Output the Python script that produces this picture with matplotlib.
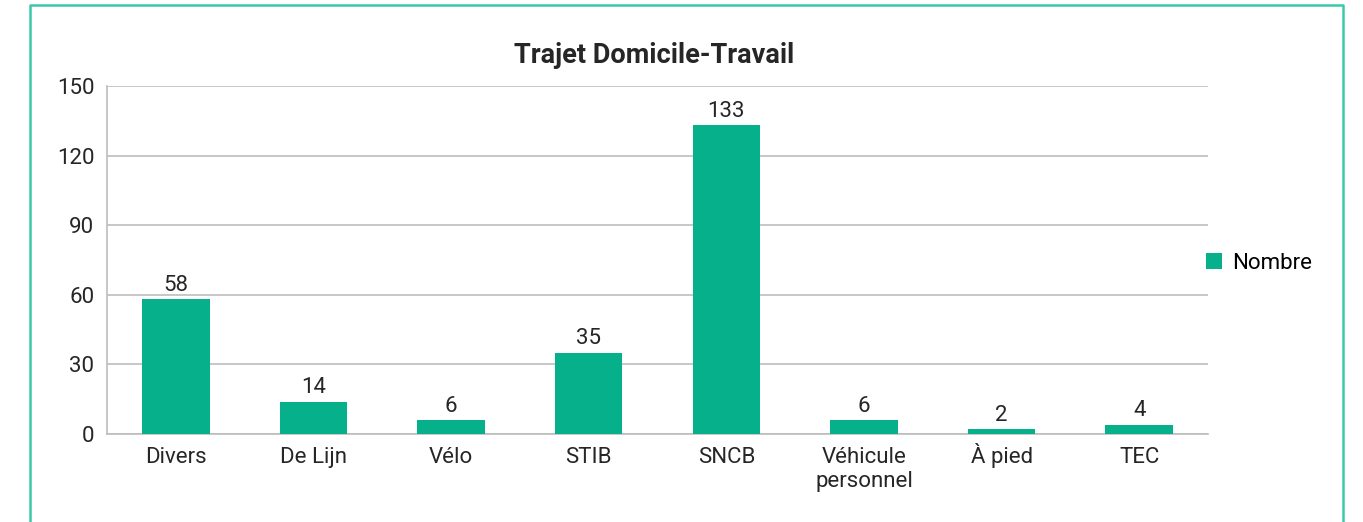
import matplotlib.pyplot as plt
from matplotlib.lines import Line2D
from matplotlib.transforms import blended_transform_factory, offset_copy

# Data
categories = ['Divers', 'De Lijn', 'Vélo', 'STIB', 'SNCB',
              'Véhicule\npersonnel', 'À pied', 'TEC']
nombre = [58, 14, 6, 35, 133, 6, 2, 4]
yticks = [0, 30, 60, 90, 120, 150]

bar_color = '#05B08A'
grid_color = '#BDBDBD'
text_color = '#262626'

plt.rcParams['font.family'] = ['Roboto', 'DejaVu Sans']

fig = plt.figure(figsize=(13.63, 5.22), dpi=100)
ax = fig.add_axes([0.0785, 0.1686, 0.8078, 0.6666])

x = range(len(categories))
bars = ax.bar(x, nombre, width=0.49, color=bar_color, label='Nombre', zorder=3)

# Value labels above bars
for xi, v in zip(x, nombre):
    ax.text(xi, v + 1.5, str(v), ha='center', va='bottom',
            fontsize=16, color=text_color)

ax.set_xlim(-0.5, len(categories) - 0.5)
ax.set_ylim(0, 150)
ax.set_yticks(yticks)
ax.set_xticks(list(x))
ax.set_xticklabels([])
ax.tick_params(axis='y', labelsize=16, labelcolor=text_color, length=0, pad=9)
ax.tick_params(axis='x', length=0)

# category labels, each line placed on its own baseline
base = blended_transform_factory(ax.transData, ax.transAxes)
for xi, lab in zip(x, categories):
    for k, line in enumerate(lab.split('\n')):
        trans = offset_copy(base, fig=fig, x=0, y=-21 - 17.5 * k, units='points')
        ax.text(xi, 0, line, transform=trans, ha='center', va='baseline',
                fontsize=16, color=text_color)

ax.yaxis.grid(True, color=grid_color, linewidth=1.2, zorder=0)
for s in ['top', 'right']:
    ax.spines[s].set_visible(False)
ax.spines['left'].set_color(grid_color)
ax.spines['bottom'].set_color(grid_color)
ax.spines['left'].set_linewidth(1.2)
ax.spines['bottom'].set_linewidth(1.2)

fig.text(0.48, 0.893, 'Trajet Domicile-Travail', ha='center', va='center',
         fontsize=19.5, fontweight='bold', color=text_color)

fig.legend(handles=[bars], labels=['Nombre'], loc='center left',
           bbox_to_anchor=(0.87, 0.496), frameon=False, fontsize=16,
           handlelength=0.75, handleheight=0.75, handletextpad=0.45)

# Teal frame around the chart (open at the bottom)
border = '#3CC8A8'
fig.add_artist(Line2D([0.022, 0.022, 0.9853, 0.9853], [0.0, 0.9904, 0.9904, 0.0],
                      transform=fig.transFigure, color=border, linewidth=1.8))

fig.savefig('out.png', dpi=100)
